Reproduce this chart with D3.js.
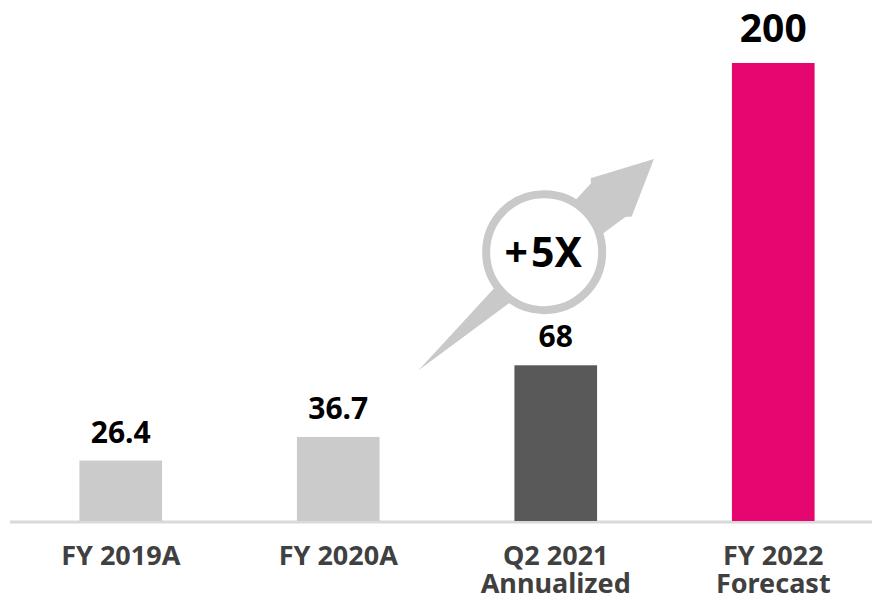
<!DOCTYPE html>
<html>
<head>
<meta charset="utf-8">
<script src="https://cdn.jsdelivr.net/npm/d3@7"></script>
<style>
  body { margin: 0; background: #fff; }
  svg { display: block; font-family: "Noto Sans", "Open Sans", sans-serif; }
</style>
</head>
<body>
<svg id="chart" width="872" height="601"></svg>
<script>
// chart data
var categories = ["FY 2019A", "FY 2020A", "Q2 2021\nAnnualized", "FY 2022\nForecast"];
var values = [26.4, 36.7, 68, 200];
var valueLabels = ["26.4", "36.7", "68", "200"];
var barColors = ["#cbcbcb", "#cbcbcb", "#595959", "#e6066f"];
var growthLabel = "+5X";

var width = 872, height = 601;
var baseY = 521;

var svg = d3.select("#chart");

var x = d3.scaleBand()
    .domain(categories)
    .range([12, 882])
    .paddingInner(0.62)
    .paddingOuter(0.31);

var y = d3.scaleLinear()
    .domain([0, 200])
    .range([baseY, 63]);

// growth arrow behind everything (tapered shaft + head)
var tail = [x(categories[1]) + x.bandwidth() + 39, y(values[2]) + 5];
var tip = [x(categories[3]) - 78, y(values[3]) + 96];
var dx = tip[0] - tail[0], dy = tip[1] - tail[1];
var len = Math.sqrt(dx * dx + dy * dy);
var ang = Math.atan2(dy, dx) * 180 / Math.PI;

var arrowG = svg.append("g")
    .attr("transform", "translate(" + tail[0] + "," + tail[1] + ") rotate(" + ang + ")");

arrowG.append("polygon")
    .attr("points", [[0, 0], [len - 63, -24], [len - 60, -28], [len, 0], [len - 55, 28], [len - 60, 24]]
          .map(function(p){ return p.join(","); }).join(" "))
    .attr("fill", "#c9c9c9");

// circle with multiplier
var cg = arrowG.append("g")
    .attr("transform", "translate(" + (len * 0.545) + ",-4) rotate(" + (-ang) + ")");

cg.append("circle")
    .attr("r", 58)
    .attr("fill", "#fff")
    .attr("stroke", "#c9c9c9")
    .attr("stroke-width", 8);

var gt = cg.append("text")
    .attr("x", -1)
    .attr("y", 15)
    .attr("text-anchor", "middle")
    .attr("font-weight", "bold")
    .attr("font-size", 41)
    .attr("fill", "#000");
gt.append("tspan").text(growthLabel.slice(0, 1));
gt.append("tspan").attr("dx", 3).text(growthLabel.slice(1));

// baseline
svg.append("line")
    .attr("x1", 10).attr("x2", width)
    .attr("y1", baseY + 1).attr("y2", baseY + 1)
    .attr("stroke", "#d9d9d9")
    .attr("stroke-width", 3);

// bars
svg.append("g").selectAll("rect")
    .data(values)
    .join("rect")
    .attr("x", function(d, i){ return x(categories[i]); })
    .attr("y", function(d){ return y(d); })
    .attr("width", x.bandwidth())
    .attr("height", function(d){ return baseY - y(d); })
    .attr("fill", function(d, i){ return barColors[i]; });

// value labels
svg.append("g").selectAll("text")
    .data(values)
    .join("text")
    .attr("x", function(d, i){ return x(categories[i]) + x.bandwidth() / 2; })
    .attr("y", function(d, i){ return y(d) - (i == values.length - 1 ? 21 : 18); })
    .attr("text-anchor", "middle")
    .attr("font-weight", "bold")
    .attr("font-size", function(d, i){ return i == values.length - 1 ? 39 : 30; })
    .attr("fill", "#000")
    .text(function(d, i){ return valueLabels[i]; });

// category labels
var cat = svg.append("g").selectAll("text")
    .data(categories)
    .join("text")
    .attr("x", function(d){ return x(d) + x.bandwidth() / 2; })
    .attr("y", 565)
    .attr("text-anchor", "middle")
    .attr("font-weight", "bold")
    .attr("font-size", 27)
    .attr("fill", "#404040");

cat.selectAll("tspan")
    .data(function(d){ return d.split("\n"); })
    .join("tspan")
    .attr("x", function(){ return this.parentNode.getAttribute("x"); })
    .attr("dy", function(d, i){ return i ? 28 : 0; })
    .text(function(d){ return d; });
</script>
</body>
</html>
